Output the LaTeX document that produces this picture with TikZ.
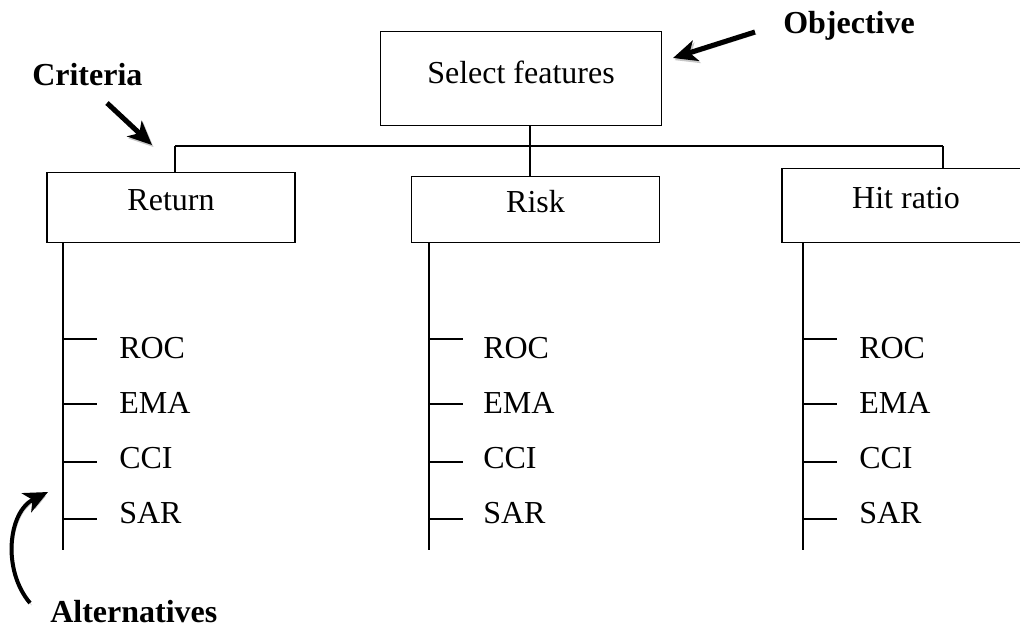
\documentclass[tikz,border=0pt]{standalone}
\usepackage{fontspec}
\setmainfont{Liberation Serif}
\usetikzlibrary{positioning,arrows.meta,calc}
\tikzset{
  treeline/.style={line width=1.5pt},
  markarrow/.style={-{Stealth[length=18pt, width=16pt, inset=5pt]}, line width=3.8pt,
    preaction={draw=black!22, transform canvas={shift={(1.2pt,-1.6pt)}}}},
  goalnode/.style={draw, line width=0.9pt, minimum width=211pt, minimum height=71pt, inner sep=0pt,
    text height=1em, text depth=0.22em},
  critnode/.style={draw, line width=0.9pt, minimum width=186pt, minimum height=52pt, inner sep=0pt,
    text height=0.7em, text depth=0.25em},
  leaflabel/.style={inner sep=0pt},
  tag/.style={inner sep=0pt, font=\fontsize{24}{28}\selectfont\bfseries}
}
\begin{document}
\begin{tikzpicture}[x=0.75pt, y=-0.75pt, every node/.style={font=\fontsize{24}{28}\selectfont}]
      \useasboundingbox (0,0) rectangle (1020,628);
      % objective and criteria
      \node[goalnode] (sel) at (521,78.5) {Select features};
      \node[critnode] (ret) at (171,207.5) {Return};
      \node[critnode, minimum height=50pt] (risk) at (535.5,209.5) {Risk};
      \node[critnode, minimum height=55pt] (hit) at (906,205.5) {Hit ratio};
      \coordinate (jr) at (175,146);
      \coordinate (jk) at (530,146);
      \coordinate (jh) at (943,146);
      \draw[treeline] (jr) -- (jh);
      \draw[treeline] (sel.south -| jk) -- (risk.north -| jk);
      \draw[treeline] (jr) -- (jr |- ret.north);
      \draw[treeline] (jh) -- (jh |- hit.north);
      % alternatives
      \foreach \col/\lx/\tx/\nx in {ret/63/97/119, risk/429/463/483, hit/803/837/859} {
        \coordinate (\col-a) at (\lx,550);
        \draw[treeline] (\col.south -| \col-a) -- (\col-a);
        \foreach \lab/\ty/\by [count=\i] in {ROC/339/358, EMA/404/413, CCI/462/468, SAR/519/523} {
          \coordinate (\col-t\i) at (\lx,\ty);
          \coordinate (\col-e\i) at (\tx,\ty);
          \draw[treeline] (\col-t\i) -- (\col-e\i);
          \node[leaflabel, anchor=base west] (\col-\i) at (\nx,\by) {\lab};
        }
      }
      % labels with arrows
      \node[tag, anchor=base west] (objlab) at (783,33) {Objective};
      \node[tag, anchor=base west] (critlab) at (32,85) {Criteria};
      \node[tag, anchor=base west] (altlab) at (50,622) {Alternatives};
      \coordinate (objtail) at (755,32);
      \coordinate (objtip) at (673,58);
      \coordinate (crittail) at (107,103);
      \coordinate (crittip) at (152,145);
      \coordinate (alttail) at (30,603);
      \coordinate (alttip) at (48,492);
      \draw[markarrow] (objtail) -- (objtip);
      \draw[markarrow] (crittail) -- (crittip);
      \draw[markarrow, line width=3pt] (alttail) .. controls (2,570) and (8,512) .. (alttip);
    \end{tikzpicture}
\end{document}
